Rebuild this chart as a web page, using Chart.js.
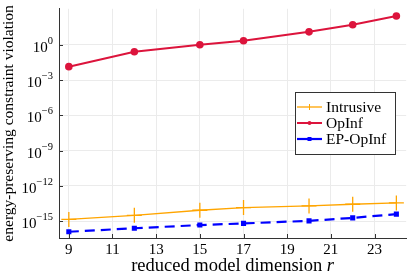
<!DOCTYPE html>
<html><head><meta charset="utf-8">
<script src="https://cdn.jsdelivr.net/npm/chart.js@4"></script>
<style>html,body{margin:0;padding:0;background:#fff}#wrap{width:415px;height:277px}</style>
</head><body><div id="wrap"><canvas id="c" width="415" height="277"></canvas></div>
<script>
const dims = [9, 12, 15, 17, 20, 22, 24];
const intrusiveLog = [-14.85, -14.5, -14.07, -13.84, -13.7, -13.56, -13.45];
const opinfLog = [-1.86, -0.59, 0.0, 0.34, 1.10, 1.71, 2.45];
const epOpinfLog = [-15.9, -15.6, -15.33, -15.19, -14.97, -14.72, -14.4];
const xTicks = [9, 11, 13, 15, 17, 19, 21, 23];
const yTickExps = [0, -3, -6, -9, -12, -15];
const seriesNames = ['Intrusive', 'OpInf', 'EP-OpInf'];
const xTitle = 'reduced model dimension ';
const xTitleVar = 'r';
const yTitle = 'energy-preserving constraint violation';

const SERIF = '"Liberation Serif", "DejaVu Serif", serif';
const toPts = arr => dims.map((d, i) => ({x: d, y: Math.pow(10, arr[i])}));

const customDraw = {
  id: 'customDraw',
  afterDraw(chart) {
    const ctx = chart.ctx;
    const ys = chart.scales.y, xs = chart.scales.x;
    const ca = chart.chartArea;
    ctx.save();
    // inward tick marks
    ctx.strokeStyle = '#333'; ctx.lineWidth = 1;
    ys.ticks.forEach(t => {
      const py = Math.round(ys.getPixelForValue(t.value)) + 0.5;
      ctx.beginPath(); ctx.moveTo(ca.left, py); ctx.lineTo(ca.left + 4, py); ctx.stroke();
    });
    xs.ticks.forEach(t => {
      const px = Math.round(xs.getPixelForValue(t.value)) + 0.5;
      ctx.beginPath(); ctx.moveTo(px, ca.bottom); ctx.lineTo(px, ca.bottom - 4); ctx.stroke();
    });
    // y tick labels with superscript exponents
    ctx.fillStyle = '#000';
    ctx.textBaseline = 'alphabetic';
    ctx.textAlign = 'left';
    const R = ca.left - 6;
    yTickExps.forEach(e => {
      const py = ys.getPixelForValue(Math.pow(10, e));
      const es = e === 0 ? '0' : '\u2212' + Math.abs(e);
      ctx.font = '10.5px ' + SERIF;
      const w2 = ctx.measureText(es).width;
      ctx.font = '15px ' + SERIF;
      const w1 = ctx.measureText('10').width;
      ctx.fillText('10', R - w2 - w1, py + 7);
      ctx.font = '10.5px ' + SERIF;
      ctx.fillText(es, R - w2, py - 1);
    });
    // x axis title with italic variable
    ctx.font = '18.5px ' + SERIF;
    const wa = ctx.measureText(xTitle).width;
    ctx.font = 'italic 18.5px ' + SERIF;
    const wb = ctx.measureText(xTitleVar).width;
    const cx = (ca.left + ca.right) / 2;
    let sx = cx - (wa + wb) / 2;
    ctx.font = '18.5px ' + SERIF;
    ctx.fillText(xTitle, sx, 270.5);
    ctx.font = 'italic 18.5px ' + SERIF;
    ctx.fillText(xTitleVar, sx + wa, 270.5);
    // legend
    const bx = 295, by = 92, bw = 100, bh = 62;
    ctx.fillStyle = '#fff';
    ctx.fillRect(bx, by, bw, bh);
    ctx.strokeStyle = '#333'; ctx.lineWidth = 1;
    ctx.strokeRect(bx + 0.5, by + 0.5, bw, bh);
    chart.data.datasets.forEach((ds, i) => {
      const iy = 107 + i * 16;
      ctx.strokeStyle = ds.borderColor;
      ctx.lineWidth = ds.borderWidth;
      ctx.setLineDash([]);
      ctx.beginPath(); ctx.moveTo(297, iy); ctx.lineTo(322, iy); ctx.stroke();
      ctx.fillStyle = ds.borderColor;
      if (i === 0) {
        ctx.lineWidth = 1;
        ctx.beginPath(); ctx.moveTo(309.5, iy - 3); ctx.lineTo(309.5, iy + 3); ctx.stroke();
      } else if (i === 1) {
        ctx.beginPath(); ctx.arc(309.5, iy, 2, 0, Math.PI * 2); ctx.fill();
      } else {
        ctx.fillRect(307.5, iy - 2, 4, 4);
      }
      ctx.fillStyle = '#000';
      ctx.font = '15.5px ' + SERIF;
      ctx.textBaseline = 'middle';
      ctx.fillText(ds.label, 326, iy + 1);
    });
    ctx.restore();
  }
};

new Chart(document.getElementById('c'), {
  type: 'scatter',
  data: {
    datasets: [
      {label: seriesNames[0], data: toPts(intrusiveLog), showLine: true, borderColor: '#FFA500', backgroundColor: '#FFA500',
       borderWidth: 1.3, pointStyle: 'cross', pointRadius: 7.5, pointBorderWidth: 1.3, pointHoverRadius: 7.5},
      {label: seriesNames[1], data: toPts(opinfLog), showLine: true, borderColor: '#DC143C', backgroundColor: '#DC143C',
       borderWidth: 2, pointStyle: 'circle', pointRadius: 3.8, pointBorderWidth: 0, pointHoverRadius: 3.8},
      {label: seriesNames[2], data: toPts(epOpinfLog), showLine: true, borderColor: '#0000FF', backgroundColor: '#0000FF',
       borderWidth: 2.2, borderDash: [10, 6], pointStyle: 'rect', pointRadius: 3.6, pointBorderWidth: 0, pointHoverRadius: 3.6}
    ]
  },
  options: {
    responsive: false, animation: false, devicePixelRatio: 1,
    layout: {padding: {left: 0, right: 8, top: 7, bottom: 0}},
    plugins: {legend: {display: false}, tooltip: {enabled: false}},
    scales: {
      x: {
        type: 'linear', min: 8.55, max: 24.45,
        afterBuildTicks: s => { s.ticks = xTicks.map(v => ({value: v})); },
        afterFit: s => { s.height = 39; },
        grid: {color: '#ebebeb', drawTicks: false},
        border: {color: '#333', width: 1},
        ticks: {color: '#000', font: {family: SERIF, size: 15}, padding: 3.5, callback: v => String(v), maxRotation: 0},
        title: {display: false}
      },
      y: {
        type: 'logarithmic', min: Math.pow(10, -16.43), max: Math.pow(10, 3.06),
        afterBuildTicks: s => { s.ticks = yTickExps.map(e => ({value: Math.pow(10, e)})); },
        afterFit: s => { s.width = 59; },
        grid: {color: '#ebebeb', drawTicks: false},
        border: {color: '#333', width: 1},
        ticks: {display: false},
        title: {display: true, text: yTitle, color: '#000', font: {family: SERIF, size: 15.5}, padding: {top: 0, bottom: 0}}
      }
    }
  },
  plugins: [customDraw]
});
</script></body></html>
